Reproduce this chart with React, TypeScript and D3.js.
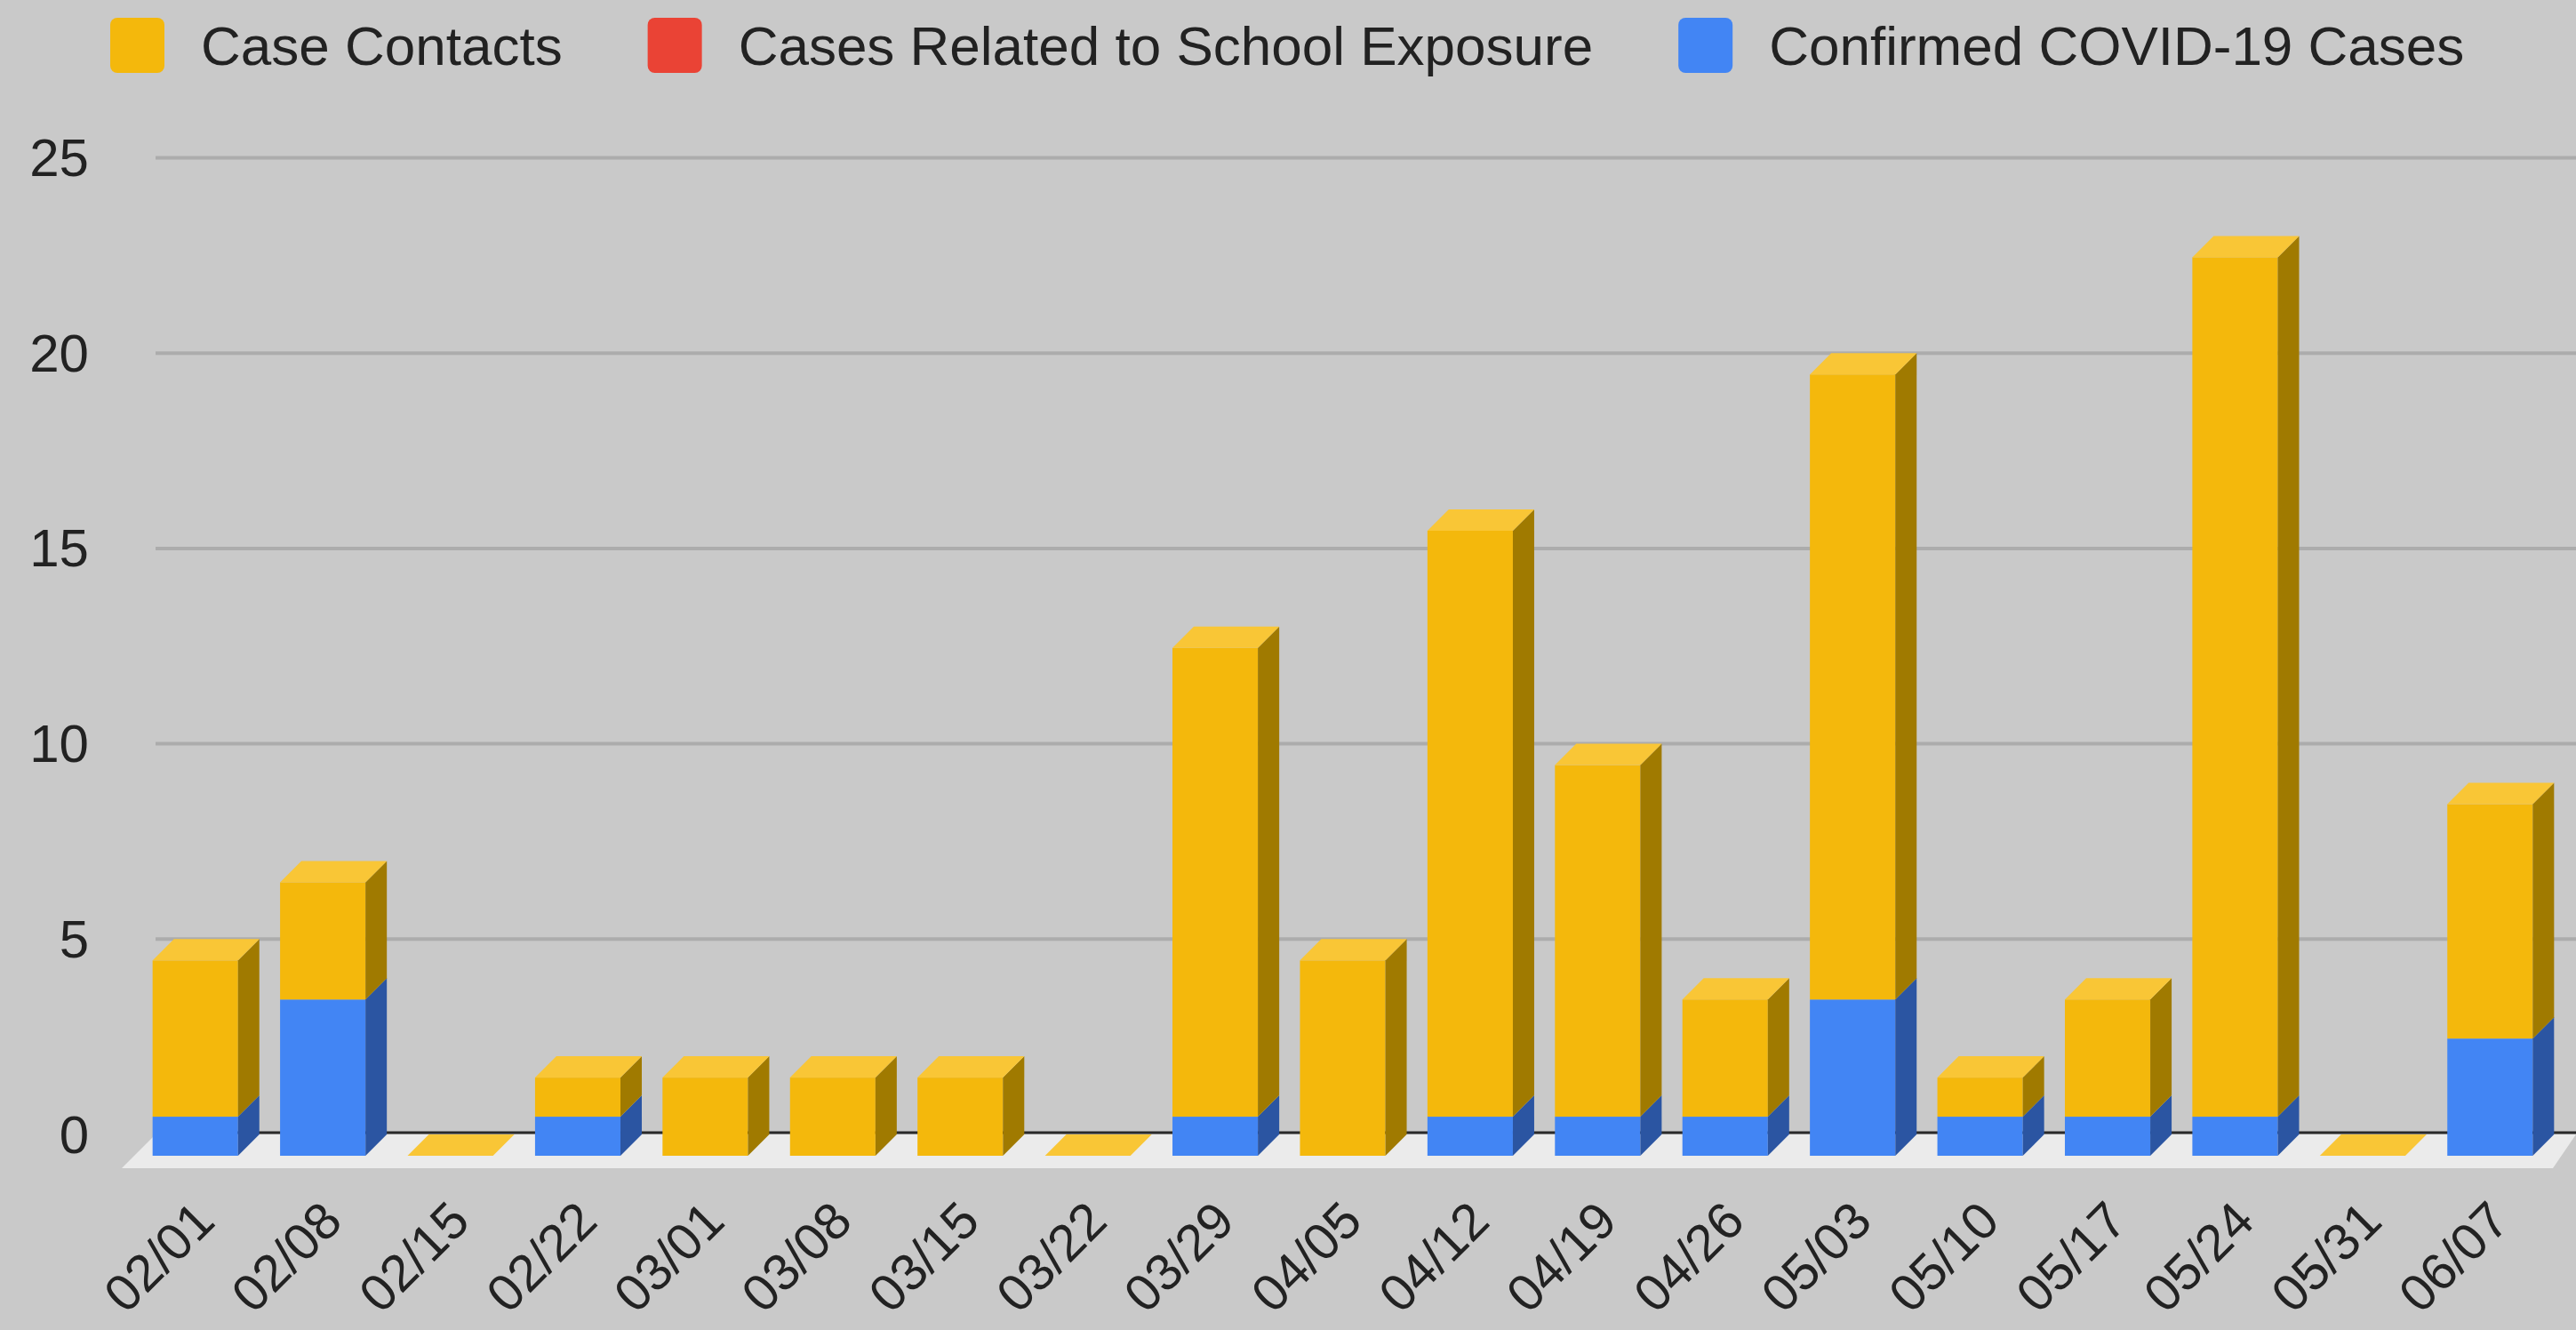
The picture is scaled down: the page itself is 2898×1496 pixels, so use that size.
import { useMemo } from "react";
import * as d3 from "d3";

const dates = [
  "02/01", "02/08", "02/15", "02/22", "03/01", "03/08", "03/15", "03/22", "03/29", "04/05",
  "04/12", "04/19", "04/26", "05/03", "05/10", "05/17", "05/24", "05/31", "06/07",
];
const caseContacts = [4, 3, 0, 1, 2, 2, 2, 0, 12, 5, 15, 9, 3, 16, 1, 3, 22, 0, 6];
const schoolExposure = [0, 0, 0, 0, 0, 0, 0, 0, 0, 0, 0, 0, 0, 0, 0, 0, 0, 0, 0];
const confirmedCases = [1, 4, 0, 1, 0, 0, 0, 0, 1, 0, 1, 1, 1, 4, 1, 1, 1, 0, 3];
const yTicks = [0, 5, 10, 15, 20, 25];

const legendItems = [
  { key: "contacts", label: "Case Contacts" },
  { key: "school", label: "Cases Related to School Exposure" },
  { key: "confirmed", label: "Confirmed COVID-19 Cases" },
];

const shades: Record<string, { front: string; side: string; top: string }> = {
  contacts: { front: "#f4b80c", side: "#a07a00", top: "#f9c636" },
  school: { front: "#ea4335", side: "#a32f25", top: "#ef6a5e" },
  confirmed: { front: "#4285f4", side: "#2b55a2", top: "#6ea0f6" },
};

const W = 2898;
const H = 1496;
const FONT = "'Liberation Sans', Arial, Helvetica, sans-serif";
const DEPTH = 24;
const FLOOR = 38;

function measure(text: string, size: number) {
  const ctx = document.createElement("canvas").getContext("2d");
  if (!ctx) return text.length * size * 0.5;
  ctx.font = `${size}px ${FONT}`;
  return ctx.measureText(text).width;
}

export default function App() {
  const x = useMemo(
    () => d3.scaleBand<string>().domain(dates).range([148, 2873]).paddingInner(0.33).paddingOuter(0.165),
    []
  );
  const y = useMemo(() => d3.scaleLinear().domain([0, 25]).range([1276, 177.5]), []);

  const series = useMemo(() => {
    const rows = dates.map((d, i) => ({
      date: d,
      confirmed: confirmedCases[i],
      school: schoolExposure[i],
      contacts: caseContacts[i],
    }));
    return d3.stack<any>().keys(["confirmed", "school", "contacts"])(rows);
  }, []);

  // legend layout
  const legend = useMemo(() => {
    let cx = 124;
    return legendItems.map((it) => {
      const item = { ...it, x: cx };
      cx += 102 + measure(it.label, 62) + 96;
      return item;
    });
  }, []);

  const bw = x.bandwidth();
  const y0 = y(0);

  return (
    <svg
      width={W}
      height={H}
      viewBox={`0 0 ${W} ${H}`}
      style={{ position: "absolute", left: 0, top: 0, display: "block", fontFamily: FONT }}
    >
      <rect x={0} y={0} width={W} height={H} fill="#c9c9c9" />

      {/* legend */}
      {legend.map((it) => (
        <g key={it.key}>
          <rect x={it.x} y={20} width={61} height={62} rx={8} fill={shades[it.key].front} />
          <text x={it.x + 102} y={51} fontSize={62} fill="#222" dominantBaseline="central">
            {it.label}
          </text>
        </g>
      ))}

      {/* gridlines + y labels */}
      {yTicks.map((t) => (
        <g key={t}>
          {t > 0 && <line x1={175} x2={W} y1={y(t)} y2={y(t)} stroke="#acacac" strokeWidth={4} />}
          <text x={100} y={y(t)} fontSize={60} fill="#222" textAnchor="end" dominantBaseline="central">
            {t}
          </text>
        </g>
      ))}

      {/* floor */}
      <polygon
        points={`${175 - FLOOR},${y0 + FLOOR} ${175},${y0} ${W},${y0} ${W - 26},${y0 + FLOOR}`}
        fill="#ebebeb"
      />
      <line x1={175} x2={W} y1={y0 - 2} y2={y0 - 2} stroke="#2a2a2a" strokeWidth={3} />

      {/* bars */}
      {dates.map((d, i) => {
        const bx = x(d) ?? 0;
        const segs = series
          .map((s) => ({ key: s.key, lo: s[i][0], hi: s[i][1] }))
          .filter((s) => s.hi > s.lo);
        const topKey = segs.length ? segs[segs.length - 1].key : "contacts";
        const total = series[series.length - 1][i][1];
        const ft = y(total) + DEPTH;
        return (
          <g key={d}>
            {segs.map((s) => {
              const fTop = y(s.hi) + DEPTH;
              const fBot = y(s.lo) + DEPTH;
              return (
                <g key={s.key}>
                  <rect x={bx} y={fTop} width={bw} height={fBot - fTop} fill={shades[s.key].front} />
                  <polygon
                    points={`${bx + bw},${fTop} ${bx + bw + DEPTH},${fTop - DEPTH} ${bx + bw + DEPTH},${fBot - DEPTH} ${bx + bw},${fBot}`}
                    fill={shades[s.key].side}
                  />
                </g>
              );
            })}
            <polygon
              points={`${bx},${ft} ${bx + DEPTH},${ft - DEPTH} ${bx + bw + DEPTH},${ft - DEPTH} ${bx + bw},${ft}`}
              fill={shades[topKey].top}
            />
          </g>
        );
      })}

      {/* x labels */}
      {dates.map((d) => {
        const lx = (x(d) ?? 0) + bw / 2 + 10;
        const ly = 1362;
        return (
          <text
            key={d}
            x={lx}
            y={ly}
            fontSize={58}
            fill="#222"
            textAnchor="end"
            dominantBaseline="central"
            transform={`rotate(-45 ${lx} ${ly})`}
          >
            {d}
          </text>
        );
      })}
    </svg>
  );
}
